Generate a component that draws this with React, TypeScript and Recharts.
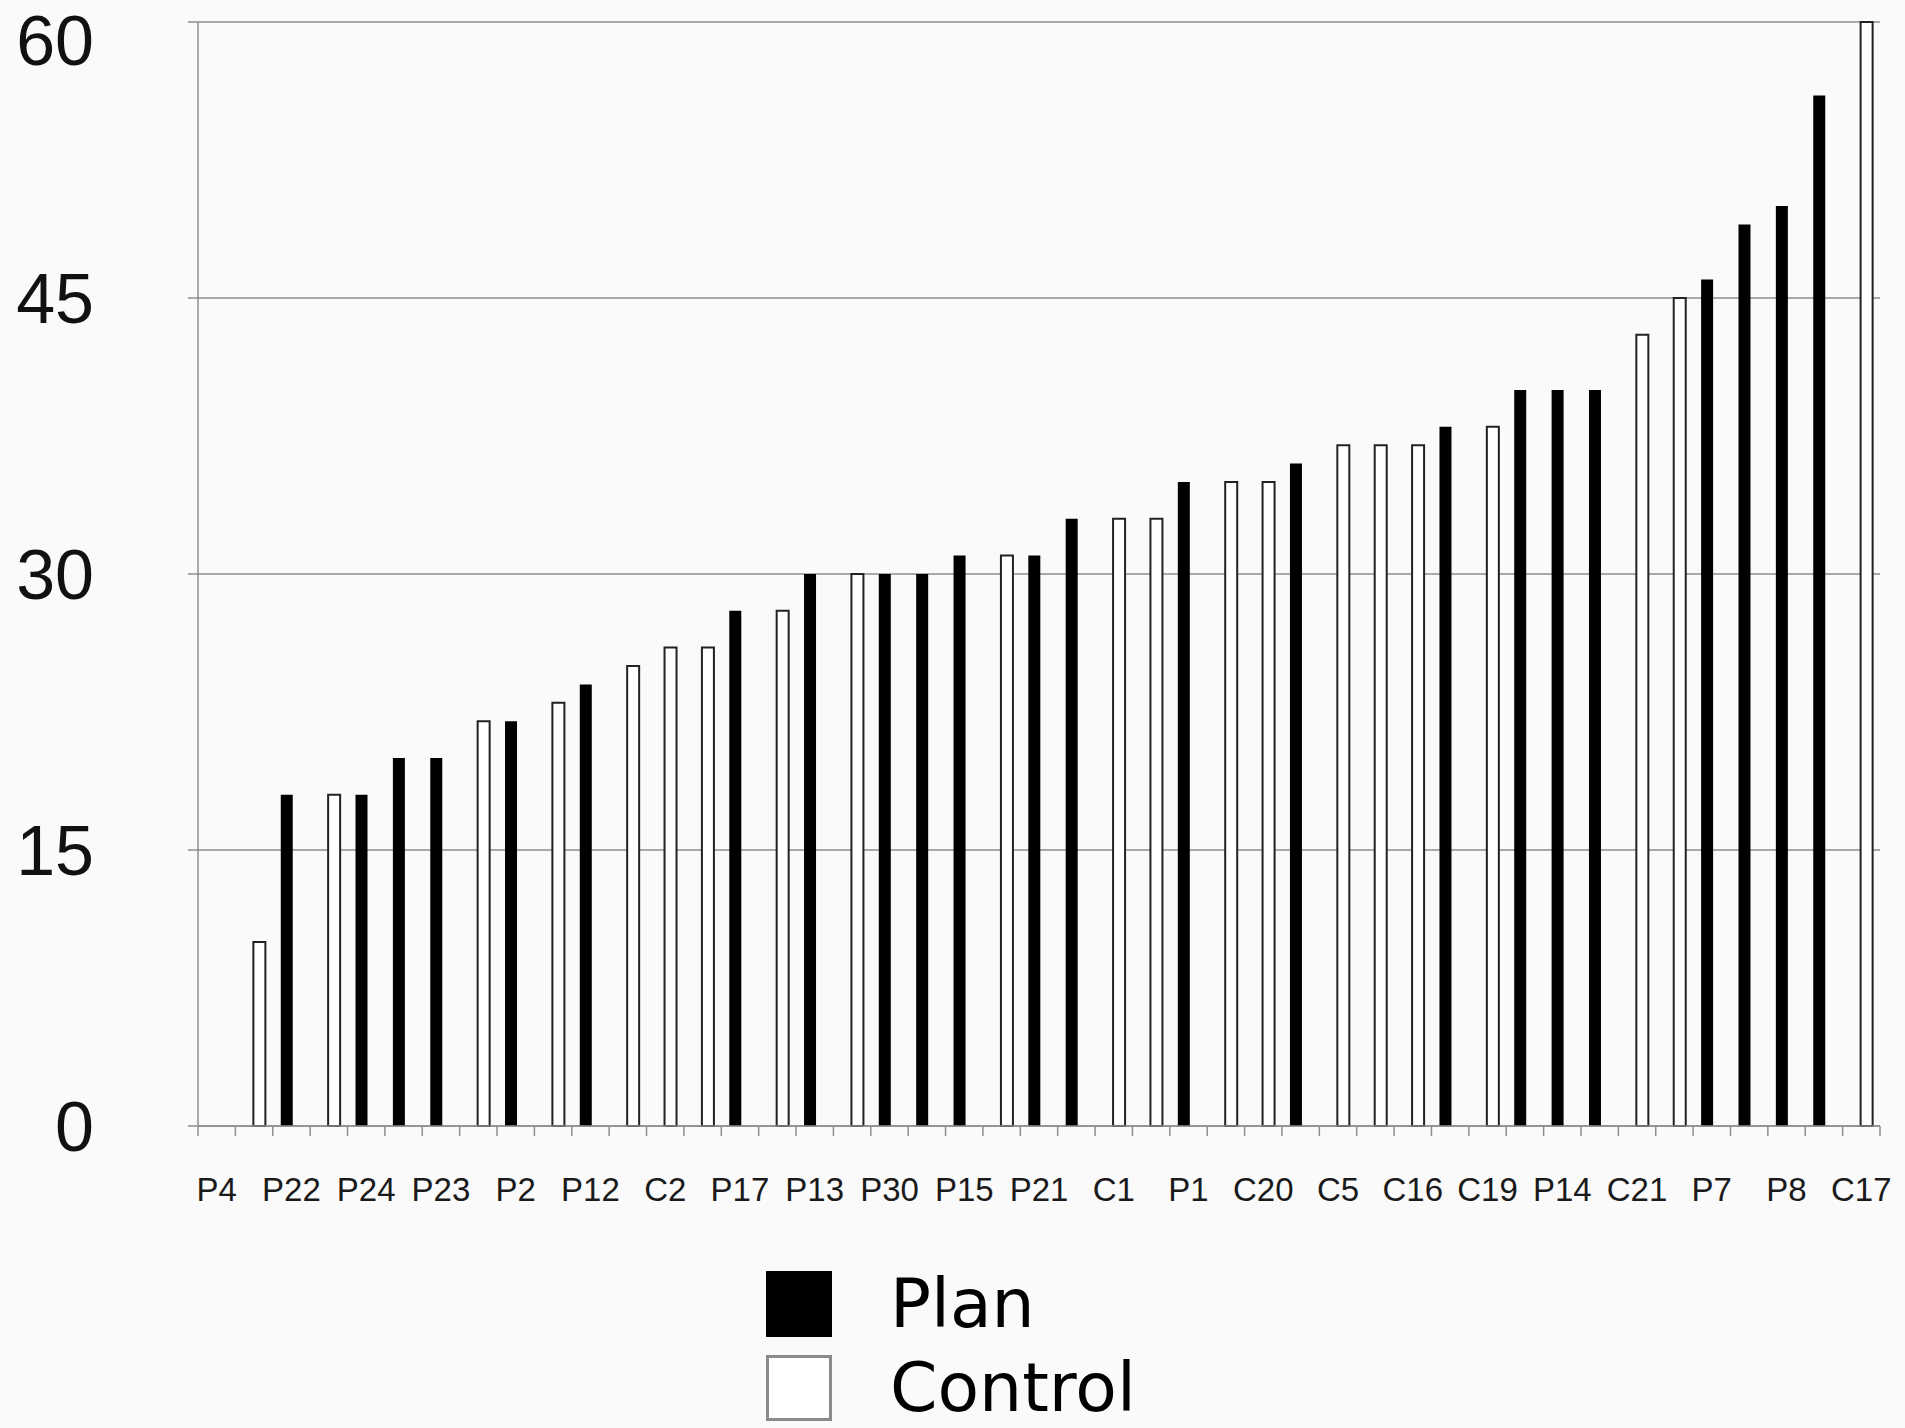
import React from 'react';
import { BarChart, Bar, XAxis, YAxis, CartesianGrid, Legend } from 'recharts';

// one slot per participant, sorted by score; only every other slot is labelled
const categories = [
  'P4', '', 'P22', '', 'P24', '', 'P23', '', 'P2', '', 'P12', '', 'C2', '', 'P17', '',
  'P13', '', 'P30', '', 'P15', '', 'P21', '', 'C1', '', 'P1', '', 'C20', '', 'C5', '',
  'C16', '', 'C19', '', 'P14', '', 'C21', '', 'P7', '', 'P8', '', 'C17',
];

const planValues: (number | null)[] = [
  0, null, 18, null, 18, 20, 20, null, 22, null, 24, null, null, null, 28, null,
  30, null, 30, 30, 31, null, 31, 33, null, null, 35, null, null, 36, null, null,
  null, 38, null, 40, 40, 40, null, null, 46, 49, 50, 56, null,
];

const controlValues: (number | null)[] = [
  null, 10, null, 18, null, null, null, 22, null, 23, null, 25, 26, 26, null, 28,
  null, 30, null, null, null, 31, null, null, 33, 33, null, 35, 35, null, 37, 37,
  37, null, 38, null, null, null, 43, 45, null, null, null, null, 60,
];

const yTicks = [0, 15, 30, 45, 60];
const legendOrder = ['plan', 'control'];

const data = categories.map((name, i) => ({
  name,
  plan: planValues[i],
  control: controlValues[i],
}));

const GRID = '#8e8e8e';
const TICK_SIZE = 10;
const TICK_GAP = 42;

const CategoryTick = (props: any) => {
  const { x, y, payload, index } = props;
  const half = payload.offset || 0;
  const axisY = y - TICK_GAP - TICK_SIZE;
  return (
    <g>
      <line x1={x - half} x2={x - half} y1={axisY} y2={axisY + TICK_SIZE} stroke={GRID} strokeWidth={1.5} />
      {index === categories.length - 1 && (
        <line x1={x + half} x2={x + half} y1={axisY} y2={axisY + TICK_SIZE} stroke={GRID} strokeWidth={1.5} />
      )}
      {payload.value && (
        <text
          x={x}
          y={y}
          dy="0.71em"
          textAnchor="middle"
          fontSize={33}
          fontFamily="'Liberation Sans', Arial, sans-serif"
          fill="#1a1a1a"
        >
          {payload.value}
        </text>
      )}
    </g>
  );
};

const LegendBox = (props: any) => {
  const items = [...(props.payload || [])].sort(
    (a: any, b: any) => legendOrder.indexOf(a.dataKey) - legendOrder.indexOf(b.dataKey),
  );
  return (
    <div style={{ fontFamily: "'DejaVu Sans', sans-serif", fontSize: 68, color: '#000' }}>
      {items.map((entry: any) => (
        <div key={entry.value} style={{ display: 'flex', alignItems: 'center', height: 84 }}>
          <div
            style={{
              width: 66,
              height: 66,
              boxSizing: 'border-box',
              background: entry.dataKey === 'plan' ? '#000' : '#fff',
              border: entry.dataKey === 'plan' ? '2px solid #000' : '3px solid #8a8a8a',
              marginRight: 58,
            }}
          />
          <span style={{ lineHeight: 1 }}>{entry.value}</span>
        </div>
      ))}
    </div>
  );
};

export default function App() {
  return (
    <div style={{ position: 'absolute', left: 0, top: 0, width: 1905, height: 1428, background: '#fafafa' }}>
      <BarChart
        width={1905}
        height={1428}
        data={data}
        margin={{ top: 22, right: 25, bottom: 242, left: 8 }}
        barSize={12}
        barGap={-2}
      >
        <CartesianGrid vertical={false} stroke={GRID} strokeWidth={1.5} />
        <XAxis
          dataKey="name"
          interval={0}
          height={60}
          axisLine={{ stroke: GRID, strokeWidth: 1.5 }}
          tickLine={false}
          tickSize={TICK_SIZE}
          tickMargin={TICK_GAP}
          tick={<CategoryTick />}
        />
        <YAxis
          domain={[0, 60]}
          ticks={yTicks}
          width={190}
          axisLine={{ stroke: GRID, strokeWidth: 1.5 }}
          tickLine={{ stroke: GRID, strokeWidth: 1.5 }}
          tickSize={TICK_SIZE}
          tickMargin={94}
          tick={{ fontSize: 70, fill: '#111', fontFamily: "'Liberation Sans', Arial, sans-serif" }}
        />
        <Legend
          layout="vertical"
          align="center"
          verticalAlign="middle"
          content={<LegendBox />}
          wrapperStyle={{ left: 766, top: 1262, width: 500, height: 166 }}
        />
        <Bar dataKey="plan" name="Plan" fill="#000" isAnimationActive={false} />
        <Bar dataKey="control" name="Control" fill="#fff" stroke="#222" strokeWidth={2} isAnimationActive={false} />
      </BarChart>
    </div>
  );
}
